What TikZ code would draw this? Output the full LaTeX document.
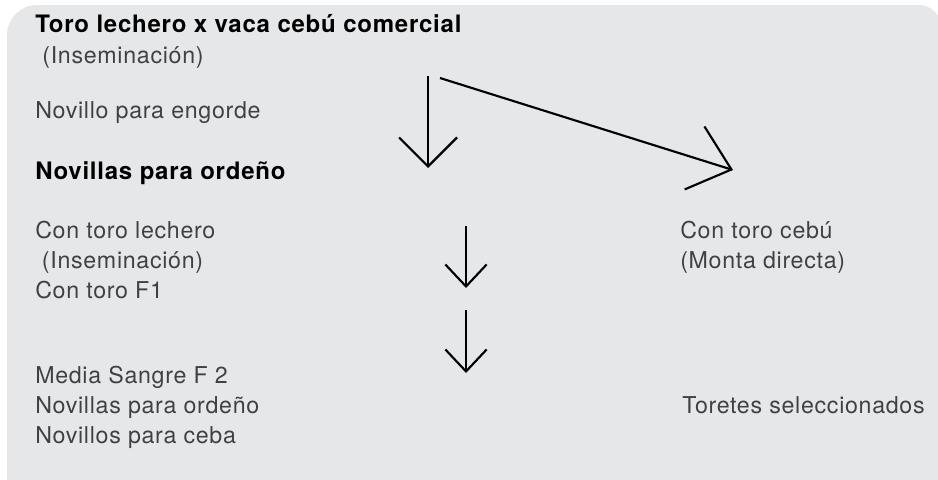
\documentclass[tikz,border=0pt]{standalone}
\usepackage{fontspec}
\setmainfont{TeX Gyre Heros}
\newfontfamily\claro[LetterSpace=3]{TeX Gyre Heros}
\newfontfamily\negrita[LetterSpace=3.2]{TeX Gyre Heros}
\usetikzlibrary{positioning,arrows.meta}
\definecolor{fondo}{RGB}{230,231,233}
\definecolor{gristexto}{RGB}{65,65,65}

\begin{document}
\begin{tikzpicture}[x=0.75pt,y=-0.75pt,
	texto/.style={anchor=base west,inner sep=0pt,align=left,text=gristexto,font=\claro\fontsize{17.4}{22.3}\selectfont},
	titulo/.style={texto,text=black,font=\negrita\bfseries\fontsize{18}{24}\selectfont},
	flecha/.style 2 args={line width=1.6pt,-{Straight Barb[length=#1,width=#2]}}]
	\useasboundingbox (0,0) rectangle (938,479);
	\fill[fondo] (7,500) -- (7,35) arc[start angle=180,end angle=270,radius=30] -- (919,5) arc[start angle=270,end angle=360,radius=22] -- (941,500) -- cycle;

	% multi-line nodes sit on the baseline of their last line
	\node[titulo] (cruce) at (35,32) {Toro lechero x vaca cebú comercial};
	\node[texto] (insem) at (35,63) {\ (Inseminación)};
	\node[texto] (engorde) at (35,118) {Novillo para engorde};
	\node[titulo] (ordeno) at (35,179) {Novillas para ordeño};
	\node[texto] (lechero) at (35,298) {Con toro lechero\\\hspace*{5pt}(Inseminación)\\Con toro F1};
	\node[texto] (cebu) at (680,268) {Con toro cebú\\(Monta directa)};
	\node[texto] (media) at (35,443) {Media Sangre F 2\\Novillas para ordeño\\Novillos para ceba};
	\node[texto] (toretes) at (682,413) {Toretes seleccionados};

	\coordinate (a1) at (428,76);
	\coordinate (b1) at (428,168);
	\coordinate (a2) at (440,78);
	\coordinate (b2) at (733,170);
	\coordinate (a3) at (466,226);
	\coordinate (b3) at (466,288);
	\coordinate (a4) at (466,310);
	\coordinate (b4) at (466,373);
	\draw[flecha={21.75pt}{43.5pt}] (a1) -- (b1);
	\draw[flecha={29pt}{49.5pt}] (a2) -- (b2);
	\draw[flecha={16.5pt}{31pt}] (a3) -- (b3);
	\draw[flecha={16.5pt}{31pt}] (a4) -- (b4);

\end{tikzpicture}
\end{document}
